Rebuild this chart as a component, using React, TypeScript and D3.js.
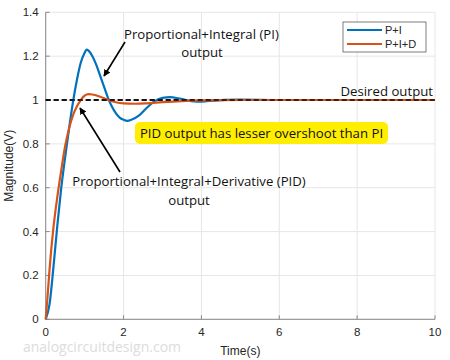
import React from "react";
import * as d3 from "d3";

const piTime = [0, 0.1, 0.2, 0.3, 0.4, 0.5, 0.6, 0.7, 0.8, 0.9, 1.0, 1.05, 1.1, 1.2, 1.3, 1.4, 1.5, 1.6, 1.7, 1.8, 1.9, 2.0, 2.1, 2.2, 2.4, 2.6, 2.8, 3.0, 3.2, 3.4, 3.6, 3.8, 4.0, 4.3, 4.6, 5, 6, 8, 10];
const piValue = [0, 0.07, 0.24, 0.43, 0.6, 0.74, 0.87, 0.99, 1.09, 1.17, 1.215, 1.23, 1.225, 1.2, 1.16, 1.11, 1.06, 1.01, 0.97, 0.94, 0.92, 0.91, 0.905, 0.91, 0.93, 0.965, 0.995, 1.01, 1.013, 1.008, 1.0, 0.994, 0.993, 0.997, 1.001, 1.002, 1.0, 1.0, 1.0];

const pidTime = [0, 0.05, 0.1, 0.2, 0.3, 0.4, 0.5, 0.6, 0.7, 0.8, 0.9, 1.0, 1.1, 1.2, 1.4, 1.6, 1.8, 2.0, 2.3, 2.6, 3.0, 3.5, 4.0, 5, 6, 8, 10];
const pidValue = [0, 0.11, 0.23, 0.42, 0.56, 0.68, 0.79, 0.87, 0.93, 0.97, 1.0, 1.02, 1.027, 1.025, 1.015, 1.0, 0.99, 0.985, 0.983, 0.985, 0.99, 0.995, 0.998, 1.0, 1.0, 1.0, 1.0];

const xTicks = [0, 2, 4, 6, 8, 10];
const yTicks = [0, 0.2, 0.4, 0.6, 0.8, 1, 1.2, 1.4];
const seriesNames = ["P+I", "P+I+D"];
const desiredLevel = 1;

export default function App() {
  const W = 450, H = 360;
  const x = d3.scaleLinear().domain([0, 10]).range([45.7, 435]);
  const y = d3.scaleLinear().domain([0, 1.4]).range([319.3, 12.3]);
  const line = d3.line<[number, number]>().x(d => x(d[0])).y(d => y(d[1])).curve(d3.curveMonotoneX);
  const piData = piTime.map((t, i) => [t, piValue[i]] as [number, number]);
  const pidData = pidTime.map((t, i) => [t, pidValue[i]] as [number, number]);
  const axisFont = "'Liberation Sans', Arial, sans-serif";
  const annFont = "'Open Sans', 'Noto Sans', sans-serif";
  const axisColor = "#262626";
  const axisLine = "#8a8a8a";
  const annSize = 13.2;
  return (
    <svg width={W} height={H} style={{ position: "absolute", left: 0, top: 0, background: "#fff" }}>
      <defs>
        <marker id="ah" viewBox="0 0 10 10" refX="9" refY="5" markerWidth="7" markerHeight="7" orient="auto-start-reverse" markerUnits="userSpaceOnUse">
          <path d="M0,0 L10,5 L0,10 z" fill="#000" />
        </marker>
      </defs>
      <rect width={W} height={H} fill="#fff" />
      {/* grid */}
      {xTicks.map(t => (
        <line key={"gx" + t} x1={x(t)} x2={x(t)} y1={y(0)} y2={y(1.4)} stroke="#e6e6e6" strokeWidth={1} />
      ))}
      {yTicks.map(t => (
        <line key={"gy" + t} x1={x(0)} x2={x(10)} y1={y(t)} y2={y(t)} stroke="#e6e6e6" strokeWidth={1} />
      ))}
      {/* axes */}
      <line x1={x(0)} x2={x(0)} y1={y(0)} y2={y(1.4)} stroke={axisLine} strokeWidth={1} />
      <line x1={x(0)} x2={x(10)} y1={y(0)} y2={y(0)} stroke={axisLine} strokeWidth={1} />
      {xTicks.map(t => (
        <g key={"xt" + t}>
          <line x1={x(t)} x2={x(t)} y1={y(0)} y2={y(0) - 4} stroke={axisLine} strokeWidth={1} />
          <text x={x(t)} y={y(0) + 17} textAnchor="middle" fontFamily={axisFont} fontSize={11.5} fill={axisColor}>{t}</text>
        </g>
      ))}
      {yTicks.map(t => (
        <g key={"yt" + t}>
          <line x1={x(0)} x2={x(0) + 4} y1={y(t)} y2={y(t)} stroke={axisLine} strokeWidth={1} />
          <text x={x(0) - 7} y={y(t) + 4} textAnchor="end" fontFamily={axisFont} fontSize={11.5} fill={axisColor}>{t}</text>
        </g>
      ))}
      <text x={(x(0) + x(10)) / 2} y={355} textAnchor="middle" fontFamily={axisFont} fontSize={12} fill={axisColor}>Time(s)</text>
      <text transform={`translate(13,${(y(0) + y(1.4)) / 2}) rotate(-90)`} textAnchor="middle" fontFamily={axisFont} fontSize={12} fill={axisColor}>Magnitude(V)</text>
      {/* desired line */}
      <line x1={x(0)} x2={x(10)} y1={y(desiredLevel)} y2={y(desiredLevel)} stroke="#000" strokeWidth={1.5} strokeDasharray="5,3" />
      {/* series */}
      <path d={line(piData) || ""} fill="none" stroke="#0072BD" strokeWidth={2.2} />
      <path d={line(pidData) || ""} fill="none" stroke="#D95319" strokeWidth={2.2} />
      <line x1={x(0)} x2={x(10)} y1={y(desiredLevel)} y2={y(desiredLevel)} stroke="#000" strokeWidth={1.5} strokeDasharray="5,3" opacity={0.9} />
      {/* legend */}
      <rect x={343} y={22} width={83} height={30} fill="#fff" stroke="#262626" strokeWidth={0.6} />
      <line x1={347} x2={382} y1={30} y2={30} stroke="#0072BD" strokeWidth={2} />
      <line x1={347} x2={382} y1={44} y2={44} stroke="#D95319" strokeWidth={2} />
      <text x={385} y={34} fontFamily={axisFont} fontSize={11} fill={axisColor}>{seriesNames[0]}</text>
      <text x={385} y={48} fontFamily={axisFont} fontSize={11} fill={axisColor}>{seriesNames[1]}</text>
      {/* annotations */}
      <text x={124} y={39} fontFamily={annFont} fontSize={annSize} fill="#111">Proportional+Integral (PI)</text>
      <text x={202} y={57} textAnchor="middle" fontFamily={annFont} fontSize={annSize} fill="#111">output</text>
      <line x1={125} y1={42} x2={104} y2={76} stroke="#000" strokeWidth={1.6} markerEnd="url(#ah)" />
      <text x={433} y={96} textAnchor="end" fontFamily={annFont} fontSize={annSize} fill="#111">Desired output</text>
      <rect x={135} y={122} width={253} height={22} rx={5} fill="#FFEE00" />
      <text x={261.5} y={137.8} textAnchor="middle" fontFamily={annFont} fontSize={annSize} fill="#111">PID output has lesser overshoot than PI</text>
      <line x1={120} y1={172} x2={80} y2={108} stroke="#000" strokeWidth={1.6} markerEnd="url(#ah)" />
      <text x={189} y={186} textAnchor="middle" fontFamily={annFont} fontSize={annSize} fill="#111">Proportional+Integral+Derivative (PID)</text>
      <text x={189} y={205} textAnchor="middle" fontFamily={annFont} fontSize={annSize} fill="#111">output</text>
      <text x={102} y={352} textAnchor="middle" fontFamily={annFont} fontSize={14} fill="#dcdcdc">analogcircuitdesign.com</text>
    </svg>
  );
}
